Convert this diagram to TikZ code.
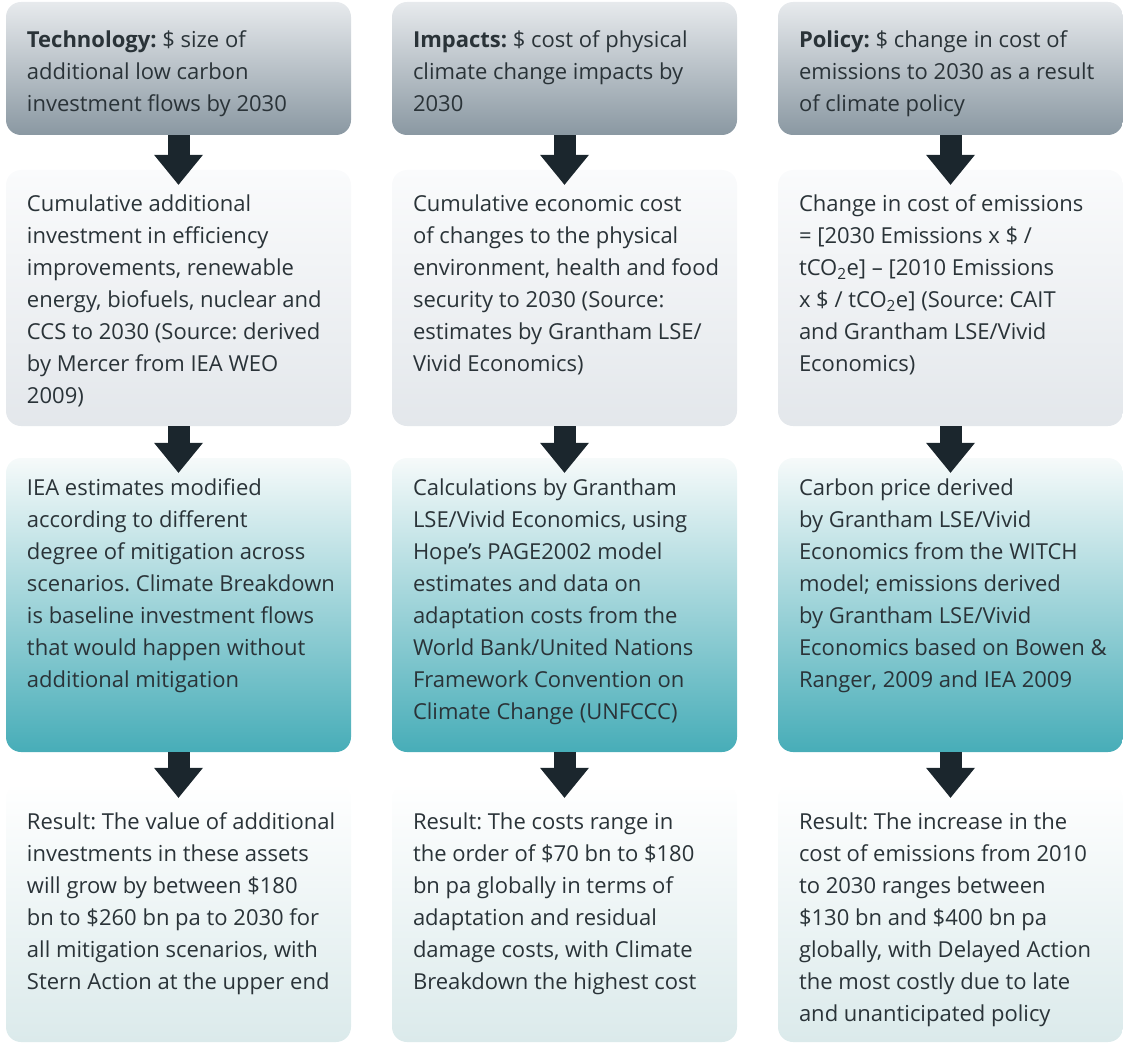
\documentclass[tikz,border=0pt]{standalone}
\usepackage{fontspec}
\setmainfont{Open Sans}
\usetikzlibrary{arrows.meta}

\definecolor{txtcol}{HTML}{2A3338}
\definecolor{arrcol}{HTML}{1B262D}
\definecolor{headtop}{HTML}{E7EAED}
\definecolor{headbot}{HTML}{8A98A2}
\definecolor{srctop}{HTML}{FAFBFC}
\definecolor{srcbot}{HTML}{E3E7EB}
\definecolor{calctop}{HTML}{F6FAFA}
\definecolor{calcbot}{HTML}{47ADB8}
\definecolor{restop}{HTML}{FFFFFF}
\definecolor{resbot}{HTML}{DBEAEB}

\begin{document}
\begin{tikzpicture}[
			x=1pt, y=-1pt,
			box/.style={rectangle, rounded corners=15pt, minimum width=345pt, inner sep=0pt},
			headbox/.style={box, minimum height=133pt, top color=headtop, bottom color=headbot},
			srcbox/.style={box, minimum height=256pt, top color=srctop, bottom color=srcbot},
			calcbox/.style={box, minimum height=294pt, top color=calctop, bottom color=calcbot},
			resbox/.style={box, minimum height=259pt, top color=restop, bottom color=resbot},
			txt/.style={anchor=north west, inner sep=0pt, align=left, text=txtcol,
				font=\fontsize{22}{32}\selectfont\frenchspacing, execute at begin node=\strut},
			arr/.style={draw=arrcol, line width=22pt, -{Triangle[width=49pt, length=30pt, line width=0pt]}, shorten >=-15pt},
		]
		\useasboundingbox (0,0) rectangle (1123,1043);

		% Questions
		\node[headbox] (tech)   at (178.5, 68.5) {};
		\node[headbox] (impact) at (564.5, 68.5) {};
		\node[headbox] (policy) at (950.5, 68.5) {};

		% Sources
		\node[srcbox] (techsrc)   at (178.5, 298) {};
		\node[srcbox] (impactsrc) at (564.5, 298) {};
		\node[srcbox] (policysrc) at (950.5, 298) {};

		% Calculations
		\node[calcbox] (techcalc)   at (178.5, 605) {};
		\node[calcbox] (impactcalc) at (564.5, 605) {};
		\node[calcbox] (policycalc) at (950.5, 605) {};

		% Results
		\node[resbox] (techres)   at (178.5, 912.5) {};
		\node[resbox] (impactres) at (564.5, 912.5) {};
		\node[resbox] (policyres) at (950.5, 912.5) {};

		% Question texts
		\node[txt] (techtxt) at ([xshift=21pt, yshift=-28.6pt]tech.north west)
			{\textbf{Technology:} \$ size of\\additional low carbon\\investment flows by 2030};
		\node[txt] (impacttxt) at ([xshift=21pt, yshift=-28.6pt]impact.north west)
			{\textbf{Impacts:} \$ cost of physical\\climate change impacts by\\2030};
		\node[txt] (policytxt) at ([xshift=21pt, yshift=-28.6pt]policy.north west)
			{\textbf{Policy:} \$ change in cost of\\emissions to 2030 as a result\\of climate policy};

		% Source texts
		\node[txt] (techsrctxt) at ([xshift=21pt, yshift=-24.6pt]techsrc.north west)
			{Cumulative additional\\investment in efficiency\\improvements, renewable\\energy, biofuels, nuclear and\\CCS to 2030 (Source: derived\\by Mercer from IEA WEO\\2009)};
		\node[txt] (impactsrctxt) at ([xshift=21pt, yshift=-24.6pt]impactsrc.north west)
			{Cumulative economic cost\\of changes to the physical\\environment, health and food\\security to 2030 (Source:\\estimates by Grantham LSE/\\Vivid Economics)};
		\node[txt] (policysrctxt) at ([xshift=21pt, yshift=-24.6pt]policysrc.north west)
			{Change in cost of emissions\\= [2030 Emissions x \$ /\\tCO\textsubscript{2}e] -- [2010 Emissions\\x \$ / tCO\textsubscript{2}e] (Source: CAIT\\and Grantham LSE/Vivid\\Economics)};

		% Calculation texts
		\node[txt] (techcalctxt) at ([xshift=21pt, yshift=-20.6pt]techcalc.north west)
			{IEA estimates modified\\according to different\\degree of mitigation across\\scenarios. Climate Breakdown\\is baseline investment flows\\that would happen without\\additional mitigation};
		\node[txt] (impactcalctxt) at ([xshift=21pt, yshift=-20.6pt]impactcalc.north west)
			{Calculations by Grantham\\LSE/Vivid Economics, using\\Hope's PAGE2002 model\\estimates and data on\\adaptation costs from the\\World Bank/United Nations\\Framework Convention on\\Climate Change (UNFCCC)};
		\node[txt] (policycalctxt) at ([xshift=21pt, yshift=-20.6pt]policycalc.north west)
			{Carbon price derived\\by Grantham LSE/Vivid\\Economics from the WITCH\\model; emissions derived\\by Grantham LSE/Vivid\\Economics based on Bowen \&\\Ranger, 2009 and IEA 2009};

		% Result texts
		\node[txt] (techrestxt) at ([xshift=21pt, yshift=-29.6pt]techres.north west)
			{Result: The value of additional\\investments in these assets\\will grow by between \$180\\bn to \$260 bn pa to 2030 for\\all mitigation scenarios, with\\Stern Action at the upper end};
		\node[txt] (impactrestxt) at ([xshift=21pt, yshift=-29.6pt]impactres.north west)
			{Result: The costs range in\\the order of \$70 bn to \$180\\bn pa globally in terms of\\adaptation and residual\\damage costs, with Climate\\Breakdown the highest cost};
		\node[txt] (policyrestxt) at ([xshift=21pt, yshift=-29.6pt]policyres.north west)
			{Result: The increase in the\\cost of emissions from 2010\\to 2030 ranges between\\\$130 bn and \$400 bn pa\\globally, with Delayed Action\\the most costly due to late\\and unanticipated policy};

		% Arrows
		\foreach \col in {tech, impact, policy} {
			\draw[arr] (\col)     -- (\col src);
			\draw[arr] (\col src)  -- (\col calc);
			\draw[arr] (\col calc) -- (\col res);
		}

	\end{tikzpicture}
\end{document}
